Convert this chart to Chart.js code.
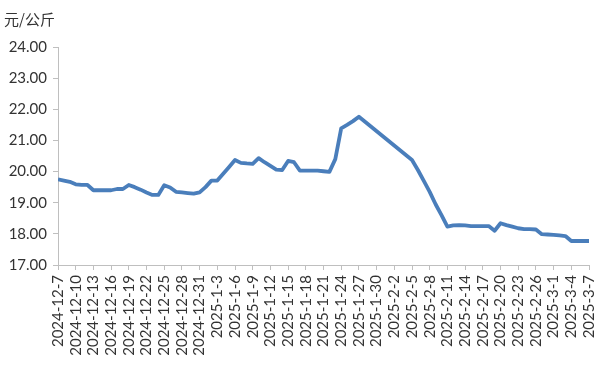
<!DOCTYPE html>
<html>
<head>
<meta charset="utf-8">
<script src="https://cdn.jsdelivr.net/npm/chart.js@4/dist/chart.umd.min.js"></script>
<style>
  html, body { margin: 0; padding: 0; background: #fff; }
  #wrap { width: 606px; height: 366px; position: relative; }
</style>
</head>
<body>
<div id="wrap"><canvas id="chart"></canvas></div>
<script>
  // daily dates, 2024-12-7 .. 2025-3-7
  const dates = [
    "2024-12-7", "2024-12-8", "2024-12-9", "2024-12-10", "2024-12-11", "2024-12-12", "2024-12-13",
    "2024-12-14", "2024-12-15", "2024-12-16", "2024-12-17", "2024-12-18", "2024-12-19", "2024-12-20",
    "2024-12-21", "2024-12-22", "2024-12-23", "2024-12-24", "2024-12-25", "2024-12-26", "2024-12-27",
    "2024-12-28", "2024-12-29", "2024-12-30", "2024-12-31", "2025-1-1", "2025-1-2", "2025-1-3",
    "2025-1-4", "2025-1-5", "2025-1-6", "2025-1-7", "2025-1-8", "2025-1-9", "2025-1-10",
    "2025-1-11", "2025-1-12", "2025-1-13", "2025-1-14", "2025-1-15", "2025-1-16", "2025-1-17",
    "2025-1-18", "2025-1-19", "2025-1-20", "2025-1-21", "2025-1-22", "2025-1-23", "2025-1-24",
    "2025-1-25", "2025-1-26", "2025-1-27", "2025-1-28", "2025-1-29", "2025-1-30", "2025-1-31",
    "2025-2-1", "2025-2-2", "2025-2-3", "2025-2-4", "2025-2-5", "2025-2-6", "2025-2-7",
    "2025-2-8", "2025-2-9", "2025-2-10", "2025-2-11", "2025-2-12", "2025-2-13", "2025-2-14",
    "2025-2-15", "2025-2-16", "2025-2-17", "2025-2-18", "2025-2-19", "2025-2-20", "2025-2-21",
    "2025-2-22", "2025-2-23", "2025-2-24", "2025-2-25", "2025-2-26", "2025-2-27", "2025-2-28",
    "2025-3-1", "2025-3-2", "2025-3-3", "2025-3-4", "2025-3-5", "2025-3-6", "2025-3-7",
  ];

  // 元/公斤, null = no quote that day
  const prices = [
    19.75, 19.71, 19.67, 19.59, 19.57, 19.57, 19.40,
    19.40, 19.40, 19.40, 19.44, 19.44, 19.57, 19.50,
    19.42, 19.33, 19.25, 19.25, 19.56, 19.49, 19.35,
    19.33, 19.31, 19.29, 19.33, 19.50, 19.71, 19.71,
    19.93, 20.15, 20.37, 20.28, 20.26, 20.25, 20.43,
    20.30, 20.18, 20.06, 20.05, 20.34, 20.30, 20.03,
    20.03, 20.03, 20.03, 20.01, 19.99, 20.40, 21.39,
    21.50, 21.62, 21.76, null, null, null, null,
    null, null, null, null, 20.37, 20.05, 19.70,
    19.35, 18.95, 18.60, 18.23, 18.27, 18.28, 18.27,
    18.25, 18.25, 18.25, 18.25, 18.10, 18.34, 18.28,
    18.23, 18.18, 18.15, 18.15, 18.14, 17.99, 17.98,
    17.97, 17.95, 17.93, 17.77, 17.77, 17.77, 17.77,
  ];

  const unitLabel = "元/公斤";
  const yMin = 17, yMax = 24;

  const fontFamily = "Lato, 'Noto Sans CJK SC', sans-serif";
  const textColor = "#333333";
  const axisColor = "#bfbfbf";

  const points = prices.map((v, i) => ({ x: i, y: v }));

  const unitPlugin = {
    id: "unitLabel",
    afterDraw(chart) {
      const ctx = chart.ctx;
      ctx.save();
      ctx.fillStyle = textColor;
      ctx.font = "15px 'Noto Sans CJK SC', sans-serif";
      ctx.textBaseline = "middle";
      ctx.fillText(unitLabel, 4, 19);
      ctx.restore();
    },
  };

  new Chart(document.getElementById("chart"), {
    type: "line",
    data: {
      datasets: [{
        data: points,
        borderColor: "#4a7ebb",
        borderWidth: 3.8,
        pointRadius: 0,
        tension: 0,
        spanGaps: true,
        borderJoinStyle: "round",
      }],
    },
    options: {
      responsive: true,
      maintainAspectRatio: false,
      animation: false,
      layout: { padding: { top: 47, right: 17, left: 0, bottom: 0 } },
      plugins: { legend: { display: false }, tooltip: { enabled: false } },
      scales: {
        x: {
          type: "linear",
          min: 0,
          max: dates.length - 1,
          grid: { drawOnChartArea: false, tickLength: 5, color: axisColor },
          border: { color: axisColor },
          afterFit: (s) => { s.height = 101; s.paddingLeft = 0; s.paddingRight = 0; },
          ticks: {
            stepSize: 3,
            autoSkip: false,
            minRotation: 90,
            maxRotation: 90,
            padding: 5,
            color: textColor,
            font: { family: fontFamily, size: 15 },
            callback: (v) => dates[v] ?? "",
          },
        },
        y: {
          min: yMin,
          max: yMax,
          grid: { drawOnChartArea: false, tickLength: 5, color: axisColor },
          border: { color: axisColor },
          afterFit: (s) => { s.width = 58; },
          ticks: {
            stepSize: 1,
            padding: 6,
            color: textColor,
            font: { family: fontFamily, size: 15 },
            callback: (v) => v.toFixed(2),
          },
        },
      },
    },
    plugins: [unitPlugin],
  });
</script>
</body>
</html>
